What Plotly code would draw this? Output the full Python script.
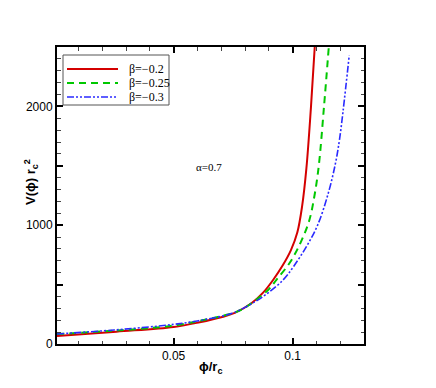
import plotly.graph_objects as go

# values
phi_a = [0.001, 0.026, 0.05, 0.061, 0.07, 0.0757, 0.0827, 0.0875, 0.0918, 0.0958, 0.0993, 0.1020,
         0.1040, 0.1058, 0.1077, 0.1093]
v_a = [67, 104, 143, 183, 225, 262, 343, 430, 539, 660, 790, 940, 1160, 1480, 1990, 2500]

phi_b = [0.001, 0.025, 0.05, 0.065, 0.071, 0.0757, 0.0795, 0.0827, 0.0897, 0.0932, 0.099, 0.1035, 0.107,
         0.1092, 0.111, 0.1132, 0.1152]
v_b = [84, 112, 155, 212, 240, 265, 300, 343, 455, 540, 690, 860, 1040, 1250, 1500, 2000, 2500]

phi_c = [0.001, 0.025, 0.05, 0.063, 0.0743, 0.082, 0.089, 0.096, 0.1005, 0.1058, 0.1105, 0.115, 0.118,
         0.1197, 0.1212, 0.1238]
v_c = [84, 118, 165, 205, 257, 330, 420, 539, 655, 820, 1000, 1270, 1520, 1720, 1960, 2430]

names = ["β=−0.2", "β=−0.25", "β=−0.3"]
colors = ["#d40000", "#00c800", "#2a2aff"]
dashes = ["solid", "7px,5px", "7px,2px,2px,2px,2px,2px"]
widths = [2, 2, 1.6]

# the page body adds an 8px margin, so the figure is drawn 8px smaller
OFF = 8
FW, FH = 436 - OFF, 388 - OFF
# plot area in window pixels (used to place the hand-made legend and titles)
L, R, T, B = 57, 364, 47, 344
W, H = R - L, B - T


def px(x):
    return (x - L) / W


def py(y):
    return (B - y) / H


fig = go.Figure()
for xs, ys, name, col, dash, w in zip([phi_a, phi_b, phi_c], [v_a, v_b, v_c], names, colors, dashes, widths):
    fig.add_trace(go.Scatter(x=xs, y=ys, mode="lines", name=name, showlegend=False,
                             line=dict(color=col, width=w, dash=dash, shape="spline", smoothing=1.0)))

axis_common = dict(showline=True, linecolor="black", linewidth=2, mirror="allticks",
                   ticks="inside", ticklen=6, tickwidth=2, tickcolor="black",
                   showgrid=False, zeroline=False, automargin=False,
                   tickfont=dict(family="Liberation Sans", size=12, color="black"))

fig.update_layout(
    width=FW, height=FH,
    margin=dict(l=L - OFF, r=FW - (R - OFF), t=T - OFF, b=FH - (B - OFF)),
    paper_bgcolor="white", plot_bgcolor="white",
    showlegend=False,
    xaxis=dict(range=[0.001, 0.13], tick0=0, dtick=0.05,
               minor=dict(dtick=0.01, tick0=0, ticks="inside", ticklen=3.5, tickwidth=1, tickcolor="#444444"),
               **axis_common),
    yaxis=dict(range=[0, 2500], tick0=0, dtick=500, ticklabelstep=2,
               minor=dict(dtick=100, tick0=0, ticks="inside", ticklen=3.5, tickwidth=1, tickcolor="#444444"),
               **axis_common),
)

# axis titles
title_font = dict(family="Liberation Sans", size=13, color="black")
fig.add_annotation(x=px(210), y=py(367), xref="paper", yref="paper", showarrow=False,
                   xanchor="center", yanchor="middle",
                   text="<b>ϕ/r<sub>c</sub></b>", font=title_font)
fig.add_annotation(x=px(31), y=py(182), xref="paper", yref="paper", showarrow=False, textangle=-90,
                   xanchor="center", yanchor="middle",
                   text="<b>V(ϕ) r<sub>c</sub><sup>2</sup></b>", font=title_font)

# legend box drawn by hand to match the compact spacing
fig.add_shape(type="rect", xref="paper", yref="paper", x0=px(63), x1=px(169), y0=py(105), y1=py(55),
              line=dict(color="#555555", width=1), fillcolor="white", layer="above")
for i, (name, col, dash, w) in enumerate(zip(names, colors, dashes, widths)):
    yy = 69 + 14 * i
    fig.add_shape(type="line", xref="paper", yref="paper", x0=px(67), x1=px(118), y0=py(yy), y1=py(yy),
                  line=dict(color=col, width=w, dash=dash), layer="above")
    fig.add_annotation(x=px(127), y=py(yy), xref="paper", yref="paper", showarrow=False,
                       xanchor="left", yanchor="middle", text=name,
                       font=dict(family="Liberation Serif", size=12, color="black"))

fig.add_annotation(x=0.065, y=1490, xref="x", yref="y", text="α=0.7", showarrow=False,
                   xanchor="center", yanchor="middle",
                   font=dict(family="Liberation Serif", size=11, color="black"))

fig.write_html("out.html")
